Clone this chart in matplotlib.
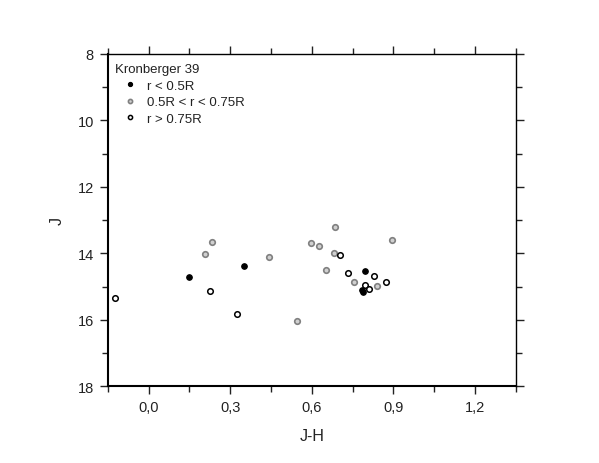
import matplotlib
matplotlib.use("Agg")
import matplotlib.pyplot as plt
from matplotlib.ticker import MultipleLocator, FuncFormatter

plt.rcParams['font.family'] = ['Liberation Sans', 'DejaVu Sans']

# Data
inner_jh = [0.150, 0.350, 0.796, 0.784, 0.789]
inner_j = [14.70, 14.38, 14.53, 15.10, 15.17]

mid_jh = [0.233, 0.209, 0.441, 0.686, 0.596, 0.626, 0.680, 0.654, 0.757, 0.544, 0.896, 0.841]
mid_j = [13.66, 14.02, 14.10, 13.20, 13.69, 13.77, 14.00, 14.50, 14.86, 16.04, 13.60, 14.98]

outer_jh = [-0.125, 0.227, 0.325, 0.704, 0.735, 0.829, 0.794, 0.874, 0.810]
outer_j = [15.33, 15.12, 15.83, 14.05, 14.59, 14.68, 14.95, 14.86, 15.06]

labels = ["r < 0.5R", "0.5R < r < 0.75R", "r > 0.75R"]
title = "Kronberger 39"

fig = plt.figure(figsize=(5.99, 4.64), dpi=100)
ax = fig.add_axes([0.18, 0.165, 0.681, 0.717])

ax.plot(inner_jh, inner_j, 'o', ms=4.0, mfc='black', mec='black', mew=0.8, label=labels[0], zorder=4)
ax.plot(mid_jh, mid_j, 'o', ms=4.0, mfc='#d0d0d0', mec='#808080', mew=1.2, label=labels[1], zorder=3)
ax.plot(outer_jh, outer_j, 'o', ms=4.0, mfc='white', mec='black', mew=1.1, label=labels[2], zorder=3)

ax.set_xlim(-0.15, 1.35)
ax.set_ylim(18, 8)

ax.xaxis.set_major_locator(MultipleLocator(0.3))
ax.xaxis.set_minor_locator(MultipleLocator(0.15))
ax.yaxis.set_major_locator(MultipleLocator(2))
ax.yaxis.set_minor_locator(MultipleLocator(1))
ax.xaxis.set_major_formatter(FuncFormatter(lambda v, p: f"{v:.1f}".replace('.', ',').replace('-0,0', '0,0')))

ax.tick_params(which='both', direction='out', top=True, right=True, labeltop=False, labelright=False,
               width=1.0, color='#222222', labelcolor='#222222')
ax.tick_params(which='major', length=6, labelsize=10.5, pad=4)
ax.tick_params(which='minor', length=4)

for s in ['left', 'bottom']:
    ax.spines[s].set_linewidth(1.5)
for s in ['top', 'right']:
    ax.spines[s].set_linewidth(1.0)

ax.set_xlabel("J-H", fontsize=11.5, color='#222222', labelpad=10)
ax.set_ylabel("J", fontsize=11.5, color='#222222', labelpad=9)

leg = ax.legend(title=title, loc='upper left', bbox_to_anchor=(-0.005, 1.0), frameon=False,
                fontsize=9.5, title_fontsize=9.5, alignment='left', handletextpad=0.1,
                labelspacing=0.33, borderaxespad=0.3, markerscale=0.75, handlelength=2.3)
for t in leg.get_texts():
    t.set_color('#222222')
leg.get_title().set_color('#222222')

fig.savefig("out.png", dpi=100)
